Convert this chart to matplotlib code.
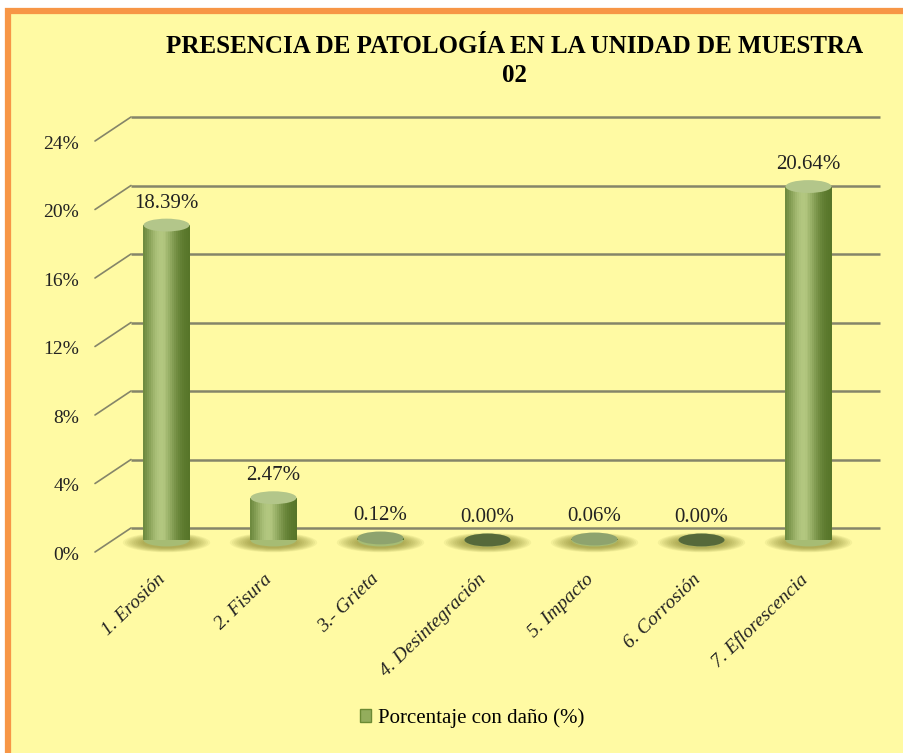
import numpy as np
import matplotlib.pyplot as plt
from matplotlib.patches import Ellipse, Rectangle
from matplotlib.transforms import offset_copy

# data
categories = ["1. Erosión", "2. Fisura", "3.- Grieta", "4. Desintegración",
              "5. Impacto", "6. Corrosión", "7. Eflorescencia"]
values = [18.39, 2.47, 0.12, 0.00, 0.06, 0.00, 20.64]
yticks = [0, 4, 8, 12, 16, 20, 24]
title = "PRESENCIA DE PATOLOGÍA EN LA UNIDAD DE MUESTRA\n02"
legend_label = "Porcentaje con daño (%)"

plt.rcParams["font.family"] = ["Liberation Serif", "DejaVu Serif"]

W, H = 904, 753
fig = plt.figure(figsize=(W / 100, H / 100), dpi=100)
fig.patch.set_facecolor("white")

# yellow panel with orange frame
bg = fig.add_axes([0, 0, 1, 1])
bg.set_xlim(0, W)
bg.set_ylim(H, 0)
bg.axis("off")
bg.add_patch(Rectangle((8, 11), 910, 760, facecolor="#fffaa3",
                       edgecolor="#f79646", linewidth=4.5))

# back plane of the 3D chart
ax = fig.add_axes([131 / W, (H - 528) / H, (880 - 131) / W, (528 - 117) / H])
ax.set_xlim(-0.5, len(categories) - 0.5)
ax.set_ylim(0, 24)
ax.axis("off")

grid_col = "#858569"
ax.hlines(yticks, -0.5, len(categories) - 0.5, color=grid_col,
          linewidth=1.8, clip_on=False)
for t in yticks:
    ax.annotate("", xy=(-0.5, t), xytext=(-36 * 0.72, -24 * 0.72),
                textcoords="offset points",
                arrowprops=dict(arrowstyle="-", color=grid_col, lw=1.2,
                                shrinkA=0, shrinkB=0))
    ax.annotate(f"{t}%", xy=(-0.5, t), xytext=(-52 * 0.72, -27 * 0.72),
                textcoords="offset points", ha="right", va="center",
                fontsize=14, color="#222222")

# bars sit half way in depth
bar_tr = offset_copy(ax.transData, fig=fig, x=-18, y=-12, units="dots")
x = np.arange(len(categories))
width = 0.43
n_strips = 24
dark = np.array([0.33, 0.45, 0.15])
light = np.array([0.70, 0.78, 0.50])


def shade(t):
    # horizontal cylinder shading, highlight left of centre
    k = np.exp(-((t - 0.38) / 0.32) ** 2)
    return tuple(dark + (light - dark) * k)


for xi, v in zip(x, values):
    # soft shadow at the base, many faint layers
    for s in np.linspace(1.9, 1.05, 10):
        ax.add_patch(Ellipse((xi, -0.15), width * s, 0.9 * s / 1.5,
                             facecolor="#6f6f18", alpha=0.07,
                             edgecolor="none", transform=bar_tr, zorder=2,
                             clip_on=False))
    for k in range(n_strips):
        t = (k + 0.5) / n_strips
        ax.bar(xi - width / 2 + t * width, v, width=width / n_strips * 1.05,
               color=shade(t), linewidth=0, transform=bar_tr, zorder=3,
               clip_on=False)
    ax.add_patch(Ellipse((xi, 0), width, 0.75, facecolor=shade(0.5),
                         edgecolor="none", transform=bar_tr, zorder=2.9,
                         clip_on=False))
    top_col = "#b3c68a" if v > 0.5 else ("#8ea36e" if v > 0 else "#56693a")
    ax.add_patch(Ellipse((xi, v), width, 0.75, facecolor=top_col,
                         edgecolor="none", transform=bar_tr, zorder=4,
                         clip_on=False))
    ax.annotate(f"{v:.2f}%", xy=(xi, v), xytext=(0, 9),
                textcoords="offset points", xycoords=bar_tr,
                ha="center", va="bottom", fontsize=15, color="#222222",
                zorder=5)

# category labels
for xi, c in zip(x, categories):
    ax.annotate(c, xy=(xi, 0), xycoords=bar_tr, xytext=(-7, -22),
                textcoords="offset points", ha="right", va="top",
                rotation=44, rotation_mode="anchor", fontsize=14,
                style="italic", color="#222222")

fig.text(515 / W, 1 - 61 / H, title, ha="center", va="center",
         fontsize=18, fontweight="bold", linespacing=1.3)

handle = Rectangle((0, 0), 1, 1, facecolor="#93ad5c", edgecolor="#6b8a34")
fig.legend([handle], [legend_label], loc="center",
           bbox_to_anchor=(472 / W, 1 - 718 / H), frameon=False,
           fontsize=15, handlelength=0.55, handleheight=0.55,
           handletextpad=0.3)

fig.savefig("out.png", dpi=100, facecolor=fig.get_facecolor())
